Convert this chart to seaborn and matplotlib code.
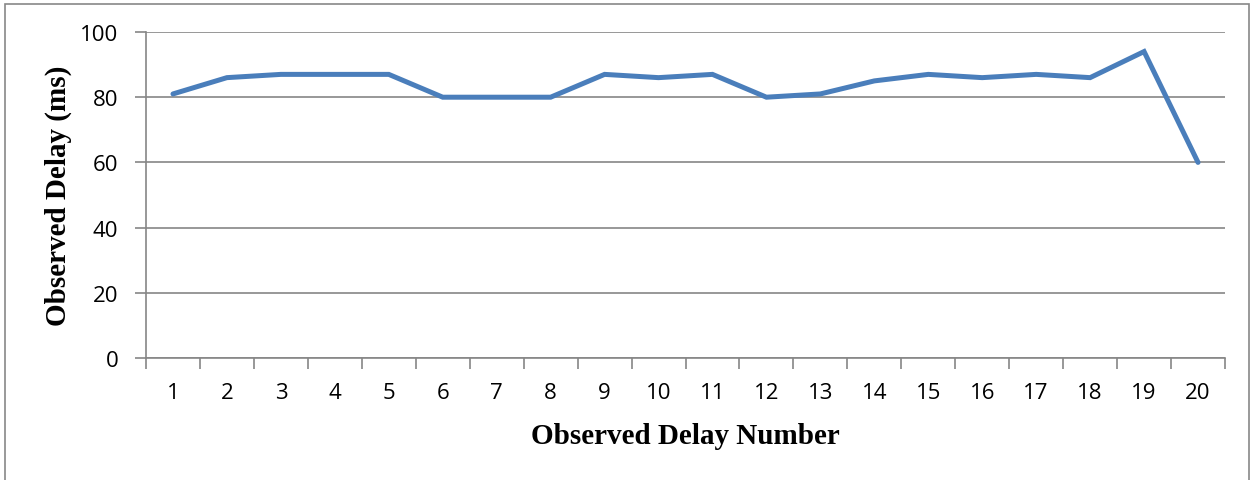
import numpy as np
import pandas as pd
import matplotlib
matplotlib.use("Agg")
import matplotlib.pyplot as plt
import matplotlib.patches as mpatches
import seaborn as sns

# data
delay_number = list(range(1, 21))
observed_delay = [81, 86, 87, 87, 87, 80, 80, 80, 87, 86,
                  87, 80, 81, 85, 87, 86, 87, 86, 94, 60]
y_ticks = [0, 20, 40, 60, 80, 100]

df = pd.DataFrame({"num": delay_number, "delay": observed_delay})

sns.set_theme(style="white")
plt.rcParams['font.family'] = ['Open Sans', 'DejaVu Sans']

grid_col = '#868686'
line_col = '#4A7EBB'

fig = plt.figure(figsize=(12.54, 4.81), dpi=100)
ax = fig.add_axes([146 / 1254, 1 - 359 / 481, (1225 - 146) / 1254, (359 - 33) / 481])

sns.lineplot(data=df, x="num", y="delay", ax=ax, color=line_col,
             linewidth=3.6, solid_joinstyle='miter', zorder=3)

ax.set_xlim(0.5, 20.5)
ax.set_ylim(0, 100)

# category axis: ticks between categories, labels centred
ax.set_xticks(np.arange(0.5, 21, 1))
ax.set_xticklabels([])
ax.set_xticks(delay_number, minor=True)
ax.set_xticklabels([str(n) for n in delay_number], minor=True)
ax.tick_params(axis='x', which='major', direction='out', length=8,
               width=1.2, color=grid_col, bottom=True)
ax.tick_params(axis='x', which='minor', length=0, pad=17, labelsize=16,
               labelcolor='black')

ax.set_yticks(y_ticks)
ax.set_yticklabels([str(v) for v in y_ticks])
ax.tick_params(axis='y', direction='out', length=8, width=1.2,
               color=grid_col, left=True, pad=12, labelsize=16,
               labelcolor='black')

ax.yaxis.grid(True, color=grid_col, linewidth=1.2)
ax.set_axisbelow(True)

for s in ['top', 'right']:
    ax.spines[s].set_visible(False)
for s in ['left', 'bottom']:
    ax.spines[s].set_color(grid_col)
    ax.spines[s].set_linewidth(1.2)

ax.set_xlabel("Observed Delay Number", family=['Liberation Serif'],
              fontweight='bold', fontsize=21, labelpad=14, color='black')
ax.set_ylabel("Observed Delay (ms)", family=['Liberation Serif'],
              fontweight='bold', fontsize=21, labelpad=6, color='black')

# chart area border
border = mpatches.Rectangle((5 / 1254, -0.05), 1244 / 1254, 1.05 - 5 / 481,
                            transform=fig.transFigure, fill=False,
                            edgecolor='#878787', linewidth=1.2)
fig.patches.append(border)

fig.savefig("out.png", dpi=100)
